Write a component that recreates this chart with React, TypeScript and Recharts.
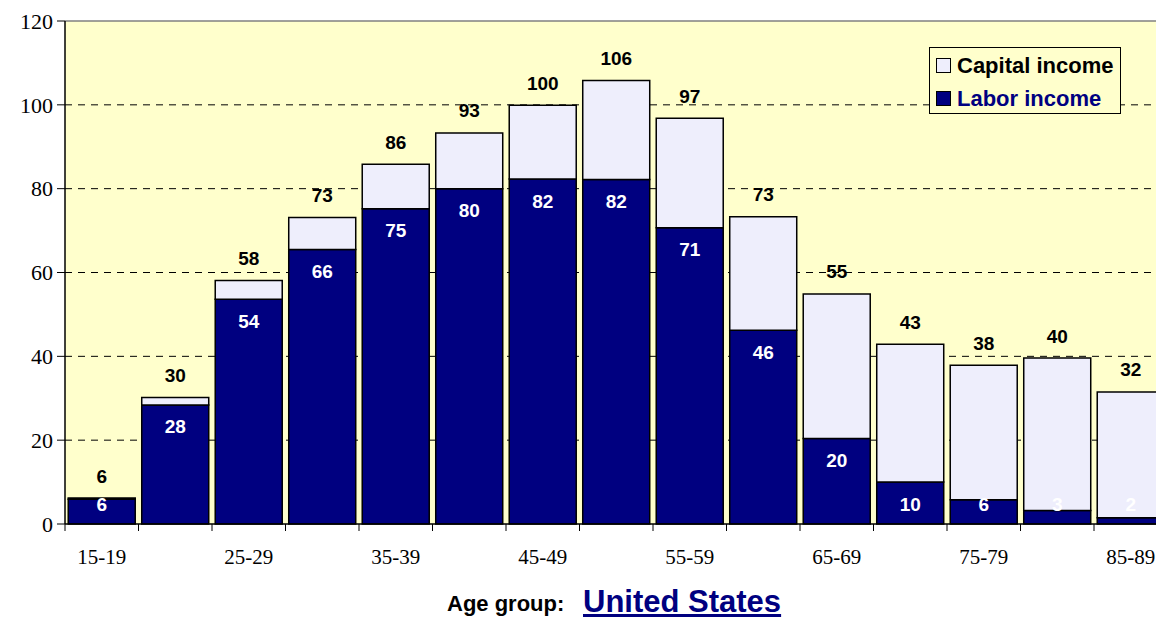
import { BarChart, Bar, XAxis, YAxis, CartesianGrid, ReferenceLine, Legend, LabelList } from "recharts";

const ageGroups = ["15-19", "20-24", "25-29", "30-34", "35-39", "40-44", "45-49", "50-54", "55-59", "60-64", "65-69", "70-74", "75-79", "80-84", "85-89"];
const laborIncome = [5.9, 28.4, 53.6, 65.5, 75.2, 80.0, 82.3, 82.2, 70.7, 46.2, 20.4, 10.0, 5.8, 3.2, 1.5];
const capitalIncome = [0.3, 1.8, 4.5, 7.6, 10.6, 13.3, 17.6, 23.6, 26.1, 27.1, 34.5, 32.9, 32.1, 36.4, 30.0];
const yTicks = [0, 20, 40, 60, 80, 100, 120];

const data = ageGroups.map((age, i) => ({
  age,
  labor: laborIncome[i],
  capital: capitalIncome[i],
}));

const NAVY = "#000080";
const CAPITAL = "#EEEEFC";
const BG = "#FFFFCC";
const ARIAL = "'Liberation Sans', Arial, sans-serif";
const SERIF = "'Liberation Serif', 'Times New Roman', serif";

const AgeTick = (props: any) => {
  const { x, y, payload, index } = props;
  const half = payload.offset || 36.75;
  return (
    <g>
      <line x1={x - half} x2={x - half} y1={y} y2={y + 7} stroke="#000" strokeWidth={1} />
      {index % 2 === 0 && (
        <text x={x} y={y + 33} textAnchor="middle" dominantBaseline="central" fontFamily={SERIF} fontSize={21} fill="#000">
          {payload.value}
        </text>
      )}
    </g>
  );
};

const LaborLabel = (props: any) => {
  const { x, y, width, height, value } = props;
  const base = y + height;
  const cy = Math.min(y + 22, base - 20);
  return (
    <text x={x + width / 2} y={cy} textAnchor="middle" dominantBaseline="central" fontFamily={ARIAL} fontWeight="bold" fontSize={19} fill="#fff">
      {Math.round(value)}
    </text>
  );
};

const TotalLabel = (props: any) => {
  const { x, y, width, index } = props;
  const total = laborIncome[index] + capitalIncome[index];
  return (
    <text x={x + width / 2} y={y - 22} textAnchor="middle" dominantBaseline="central" fontFamily={ARIAL} fontWeight="bold" fontSize={19} fill="#000">
      {Math.round(total)}
    </text>
  );
};

const LegendBox = () => (
  <div
    style={{
      width: 190,
      height: 65,
      background: BG,
      border: "1px solid #000",
      fontFamily: ARIAL,
      fontWeight: "bold",
      fontSize: 22,
      boxSizing: "content-box",
    }}
  >
    {[
      { name: "Capital income", fill: CAPITAL, color: "#000" },
      { name: "Labor income", fill: NAVY, color: NAVY },
    ].map((item, i) => (
      <div key={item.name} style={{ position: "absolute", left: 7, top: 11 + i * 33, display: "flex", alignItems: "center", height: 15 }}>
        <span style={{ display: "inline-block", width: 13, height: 13, background: item.fill, border: "1px solid #000", marginRight: 6 }} />
        <span style={{ color: item.color, lineHeight: "15px", whiteSpace: "nowrap" }}>{item.name}</span>
      </div>
    ))}
  </div>
);

export default function App() {
  return (
    <div style={{ position: "fixed", left: 0, top: 0, width: 1156, height: 619, overflow: "hidden", background: "#fff" }}>
      <BarChart
        width={1180}
        height={619}
        data={data}
        margin={{ top: 21, right: 12.5, left: 0, bottom: 55 }}
        barCategoryGap="4.4%"
      >
        <CartesianGrid vertical={false} fill={BG} stroke="#000" strokeDasharray="7 6" horizontalValues={[20, 40, 60, 80, 100]} />
        <ReferenceLine y={120} stroke="#808080" strokeWidth={1.5} />
        <XAxis
          dataKey="age"
          interval={0}
          tickLine={false}
          tickSize={0}
          tickMargin={0}
          height={40}
          axisLine={{ stroke: "#000", strokeWidth: 1.5 }}
          tick={<AgeTick />}
        />
        <YAxis
          width={65}
          domain={[0, 120]}
          ticks={yTicks}
          interval={0}
          tickSize={8}
          tickMargin={4}
          axisLine={{ stroke: "#000", strokeWidth: 1.5 }}
          tickLine={{ stroke: "#000" }}
          tick={{ fontFamily: SERIF, fontSize: 22, fill: "#000" }}
        />
        <Legend
          layout="vertical"
          align="center"
          verticalAlign="middle"
          wrapperStyle={{ position: "absolute", left: 929, top: 47, width: 192, height: 67 }}
          content={() => <LegendBox />}
        />
        <Bar dataKey="labor" stackId="a" fill={NAVY} stroke="#000" strokeWidth={1.5} isAnimationActive={false}>
          <LabelList dataKey="labor" content={<LaborLabel />} />
        </Bar>
        <Bar dataKey="capital" stackId="a" fill={CAPITAL} stroke="#000" strokeWidth={1.5} isAnimationActive={false}>
          <LabelList dataKey="capital" content={<TotalLabel />} />
        </Bar>
      </BarChart>
      <div style={{ position: "absolute", left: 447, top: 593, fontFamily: ARIAL, fontWeight: "bold", fontSize: 22, lineHeight: "22px", color: "#000", whiteSpace: "nowrap" }}>
        Age group:
      </div>
      <div style={{ position: "absolute", left: 583, top: 586, fontFamily: ARIAL, fontWeight: "bold", fontSize: 31, lineHeight: "31px", color: NAVY, textDecoration: "underline", whiteSpace: "nowrap" }}>
        United States
      </div>
    </div>
  );
}
